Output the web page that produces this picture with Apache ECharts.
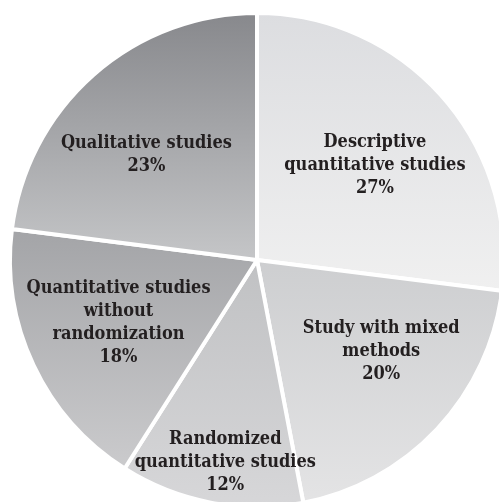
<!DOCTYPE html>
<html>
<head>
<meta charset="utf-8">
<script src="https://cdn.jsdelivr.net/npm/echarts@6/dist/echarts.min.js"></script>
<style>
html,body{margin:0;padding:0;background:#fff;}
#chart{width:499px;height:502px;}
</style>
</head>
<body>
<div id="chart"></div>
<script>
const categories = [
  "Descriptive\nquantitative studies",
  "Study with mixed\nmethods",
  "Randomized\nquantitative studies",
  "Quantitative studies\nwithout\nrandomization",
  "Qualitative studies"
];
const values = [27, 20, 12, 18, 23];

// styling (not data)
const gradTop = ['#dcdde0', '#cdced0', '#c0c1c3', '#a3a4a7', '#87888c'];
const gradBottom = ['#f0f0f0', '#e4e4e5', '#d7d7d9', '#cbcbcd', '#c5c6c8'];
const labelShift = [[23, -11], [32, 5], [-8, 78], [-24, 9], [-27, -10]];

const chart = echarts.init(document.getElementById('chart'), null, {renderer: 'canvas'});
chart.setOption({
  animation: false,
  backgroundColor: '#ffffff',
  series: [{
    type: 'pie',
    center: [257, 260],
    radius: [0, 247],
    startAngle: 90,
    clockwise: true,
    avoidLabelOverlap: false,
    itemStyle: {borderColor: '#ffffff', borderWidth: 4},
    label: {
      show: true,
      position: 'inside',
      formatter: p => p.name + '\n' + p.value + '%',
      fontFamily: 'DejaVu Serif Condensed',
      fontWeight: 'bold',
      fontSize: 18,
      lineHeight: 23,
      color: '#231f20',
      align: 'center'
    },
    labelLine: {show: false},
    labelLayout: function (params) {
      const s = labelShift[params.dataIndex];
      return {dx: s[0], dy: s[1]};
    },
    emphasis: {disabled: true},
    data: categories.map((c, i) => ({
      name: c,
      value: values[i],
      itemStyle: {
        color: new echarts.graphic.LinearGradient(0, 0, 0, 1, [
          {offset: 0, color: gradTop[i]},
          {offset: 1, color: gradBottom[i]}
        ])
      }
    }))
  }]
});
</script>
</body>
</html>
